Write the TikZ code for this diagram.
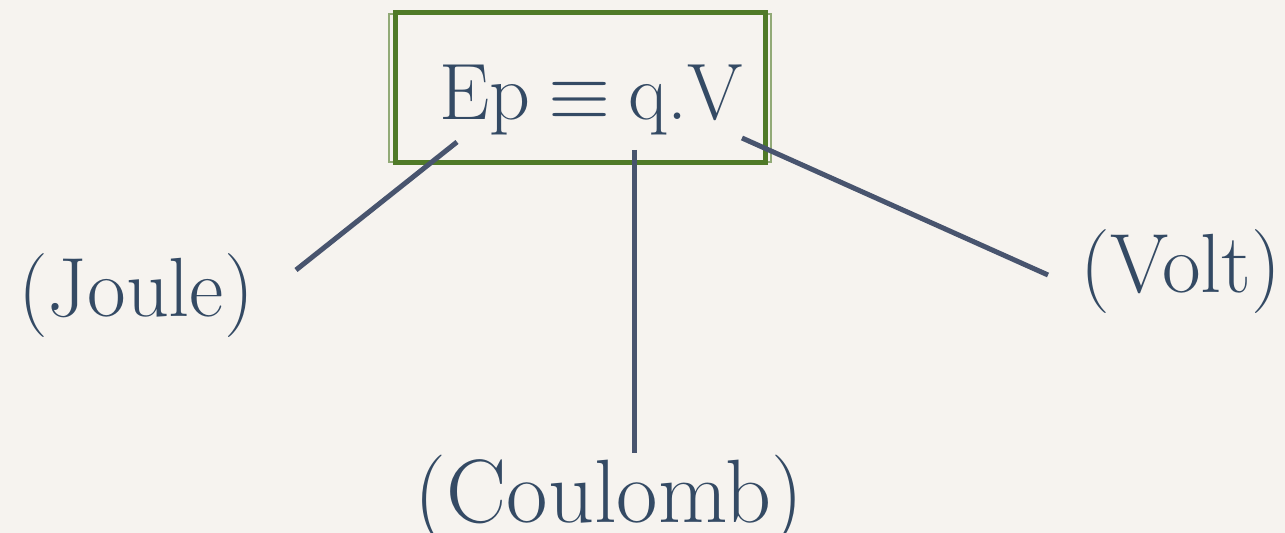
\documentclass[tikz,border=0pt]{standalone}
\usepackage{fix-cm}
\usepackage{tikz}
\usetikzlibrary{positioning}
\definecolor{paper}{RGB}{246,243,239}
\definecolor{ink}{RGB}{52,74,100}
\definecolor{wire}{RGB}{72,84,110}
\definecolor{leaf}{RGB}{80,122,40}

\begin{document}
\begin{tikzpicture}[x=0.5pt, y=-0.5pt,
  unit/.style={text=ink, font=\fontsize{42}{50}\selectfont, inner sep=0pt, anchor=base},
  link/.style={draw=wire, line width=2.5pt}]
\fill[paper] (0,0) rectangle (1285,533);
\useasboundingbox (0,0) rectangle (1285,533);
% framed formula
\node[draw=leaf, line width=2.5pt, minimum width=185pt, minimum height=75pt] (frame) at (580.5,87.5) {};
\draw[leaf, line width=0.7pt, opacity=.6] ([shift={(-4,4)}]frame.north west) rectangle ([shift={(3,-3)}]frame.south east);
\node[unit, font=\fontsize{40}{48}\selectfont] (eq) at (591,120) {Ep\:$\equiv$\:q.V};
% units
\node[unit] (joule) at (136,317) {(Joule)};
\node[unit, font=\fontsize{45}{54}\selectfont] (coulomb) at (609,523) {(Coulomb)};
\node[unit] (volt) at (1181,293) {(Volt)};
% connectors
\coordinate (jtop) at (457,142);
\coordinate (jend) at (296,270);
\coordinate (ctop) at (634,150);
\coordinate (cend) at (634,453);
\coordinate (vtop) at (742,138);
\coordinate (vend) at (1048,275);
\draw[link] (jtop) -- (jend);
\draw[link] (ctop) -- (cend);
\draw[link] (vtop) -- (vend);
\end{tikzpicture}
\end{document}
